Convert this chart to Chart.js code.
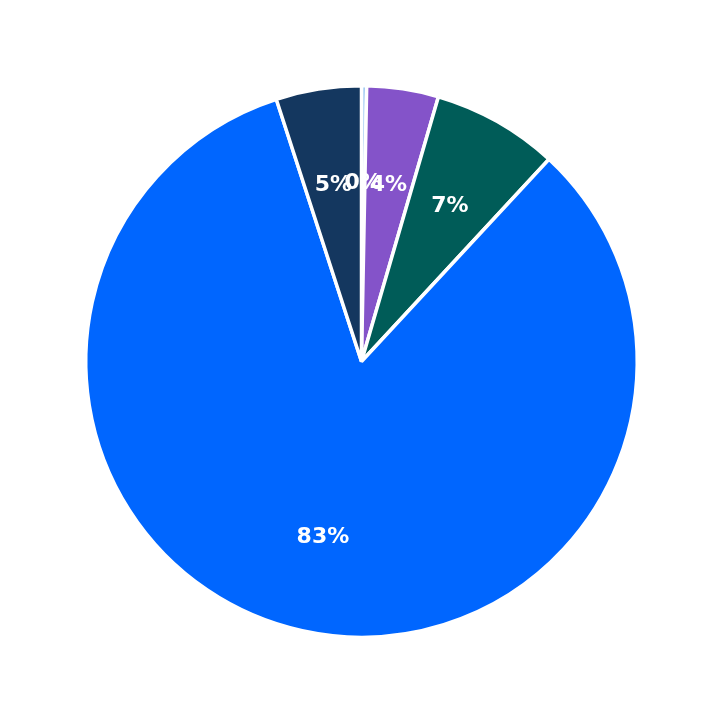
<!DOCTYPE html>
<html>
<head>
<meta charset="utf-8">
<script src="https://cdn.jsdelivr.net/npm/chart.js@4"></script>
<style>
  html, body { margin: 0; padding: 0; background: #fff; }
  #wrap { width: 723px; height: 723px; }
</style>
</head>
<body>
<div id="wrap"><canvas id="pieChart"></canvas></div>
<script>
const labels = ['A', 'B', 'C', 'D', 'E'];
const values = [0.3, 4.2, 7.4, 83.1, 5.0];
const colors = ['#8ec0f0', '#8453c9', '#005c58', '#0066ff', '#14375f'];

// draw percentage labels inside each slice
const pctLabels = {
    id: 'pctLabels',
    afterDatasetsDraw(chart) {
        const ctx = chart.ctx;
        const meta = chart.getDatasetMeta(0);
        const total = values.reduce((a, b) => a + b, 0);
        ctx.save();
        ctx.font = 'bold 22px "DejaVu Sans"';
        ctx.fillStyle = '#ffffff';
        ctx.textAlign = 'center';
        ctx.textBaseline = 'middle';
        meta.data.forEach((arc, i) => {
            const p = arc.getProps(['x', 'y', 'startAngle', 'endAngle', 'outerRadius'], true);
            const mid = (p.startAngle + p.endAngle) / 2;
            const r = p.outerRadius * 0.65;
            const pct = Math.round(values[i] / total * 100) + '%';
            ctx.fillText(pct, p.x + Math.cos(mid) * r, p.y + Math.sin(mid) * r + 1);
        });
        ctx.restore();
    }
};

new Chart(document.getElementById('pieChart').getContext('2d'), {
    type: 'pie',
    data: {
        labels: labels,
        datasets: [{
            data: values,
            backgroundColor: colors,
            borderColor: '#ffffff',
            borderWidth: 3.5
        }]
    },
    options: {
        responsive: true,
        maintainAspectRatio: false,
        animation: false,
        layout: { padding: 84 },
        plugins: {
            legend: { display: false },
            tooltip: { enabled: false }
        }
    },
    plugins: [pctLabels]
});
</script>
</body>
</html>
